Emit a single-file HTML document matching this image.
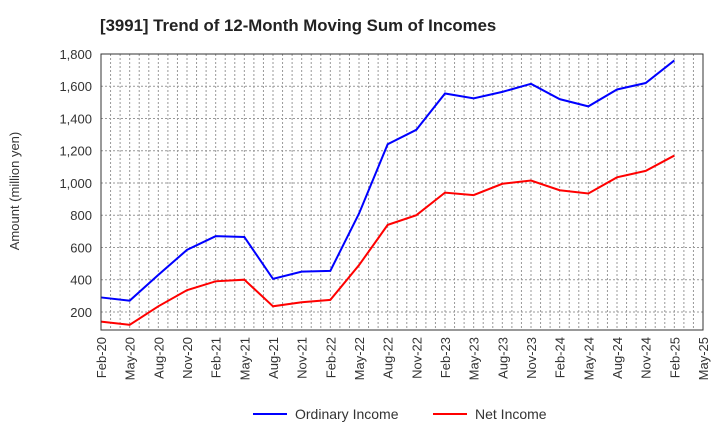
<!DOCTYPE html>
<html><head><meta charset="utf-8"><style>
body{margin:0;background:#fff;font-family:"Liberation Sans",sans-serif}
</style></head><body>
<svg id="c" width="720" height="440" xmlns="http://www.w3.org/2000/svg">
<text x="100" y="31" font-size="16.8" font-weight="bold" fill="#222">[3991]  Trend of 12-Month Moving Sum of Incomes</text>
<text transform="translate(19,191) rotate(-90)" text-anchor="middle" font-size="13" fill="#333">Amount (million yen)</text>
<g id="grid"></g><g id="ticks"></g><g id="lines"></g>
<rect x="101" y="54" width="602" height="276" fill="none" stroke="#333"/>
<g>
<line x1="253" y1="414" x2="287" y2="414" stroke="#0000ff" stroke-width="2"/>
<text x="295" y="419" font-size="14" fill="#333">Ordinary Income</text>
<line x1="433" y1="414" x2="467" y2="414" stroke="#ff0000" stroke-width="2"/>
<text x="475" y="419" font-size="14" fill="#333">Net Income</text>
</g>
</svg>
<script>
const xLabels=["Feb-20","May-20","Aug-20","Nov-20","Feb-21","May-21","Aug-21","Nov-21","Feb-22","May-22","Aug-22","Nov-22","Feb-23","May-23","Aug-23","Nov-23","Feb-24","May-24","Aug-24","Nov-24","Feb-25","May-25"];
const yTicks=[200,400,600,800,1000,1200,1400,1600,1800];
const ordinary=[290,270,430,585,670,665,405,450,455,810,1240,1330,1555,1525,1565,1615,1520,1475,1580,1620,1760];
const net=[140,120,235,335,390,400,235,260,275,490,740,800,940,925,995,1015,955,935,1035,1075,1170];
const L=101,R=703,T=54,B=330,yMin=88,yMax=1800;
const xs=i=>L+(R-L)*i/(xLabels.length-1);
const ys=v=>B-(v-yMin)/(yMax-yMin)*(B-T);
const NS="http://www.w3.org/2000/svg";
function mk(t,a,p){const e=document.createElementNS(NS,t);for(const k in a)e.setAttribute(k,a[k]);p.appendChild(e);return e;}
const g=document.getElementById('grid'),tk=document.getElementById('ticks'),ln=document.getElementById('lines');
for(let m=1;m<(xLabels.length-1)*3;m++){const x=L+(R-L)*m/((xLabels.length-1)*3);
const e=mk('line',{x1:x,x2:x,y1:T,y2:B,stroke:'#999','stroke-dasharray':'2,2','stroke-width':1},g);

}
yTicks.forEach(v=>{const y=ys(v);
const e=mk('line',{x1:L,x2:R,y1:y,y2:y,stroke:'#999','stroke-dasharray':'2,2','stroke-width':1},g);


const t=mk('text',{x:92,y:y+5,'text-anchor':'end','font-size':13,fill:'#333'},tk);t.textContent=v.toLocaleString('en-US');

});
xLabels.forEach((s,i)=>{const x=xs(i);
const t=mk('text',{transform:`translate(${x+5},${B+7}) rotate(-90)`,'text-anchor':'end','font-size':13,fill:'#333'},tk);t.textContent=s;

});
function line(d,c,n){const p=mk('polyline',{points:d.map((v,i)=>xs(i)+','+ys(v)).join(' '),fill:'none',stroke:c,'stroke-width':2},ln);

}
line(ordinary,'#0000ff','ordinary-income-line');
line(net,'#ff0000','net-income-line');
</script>
</body></html>
